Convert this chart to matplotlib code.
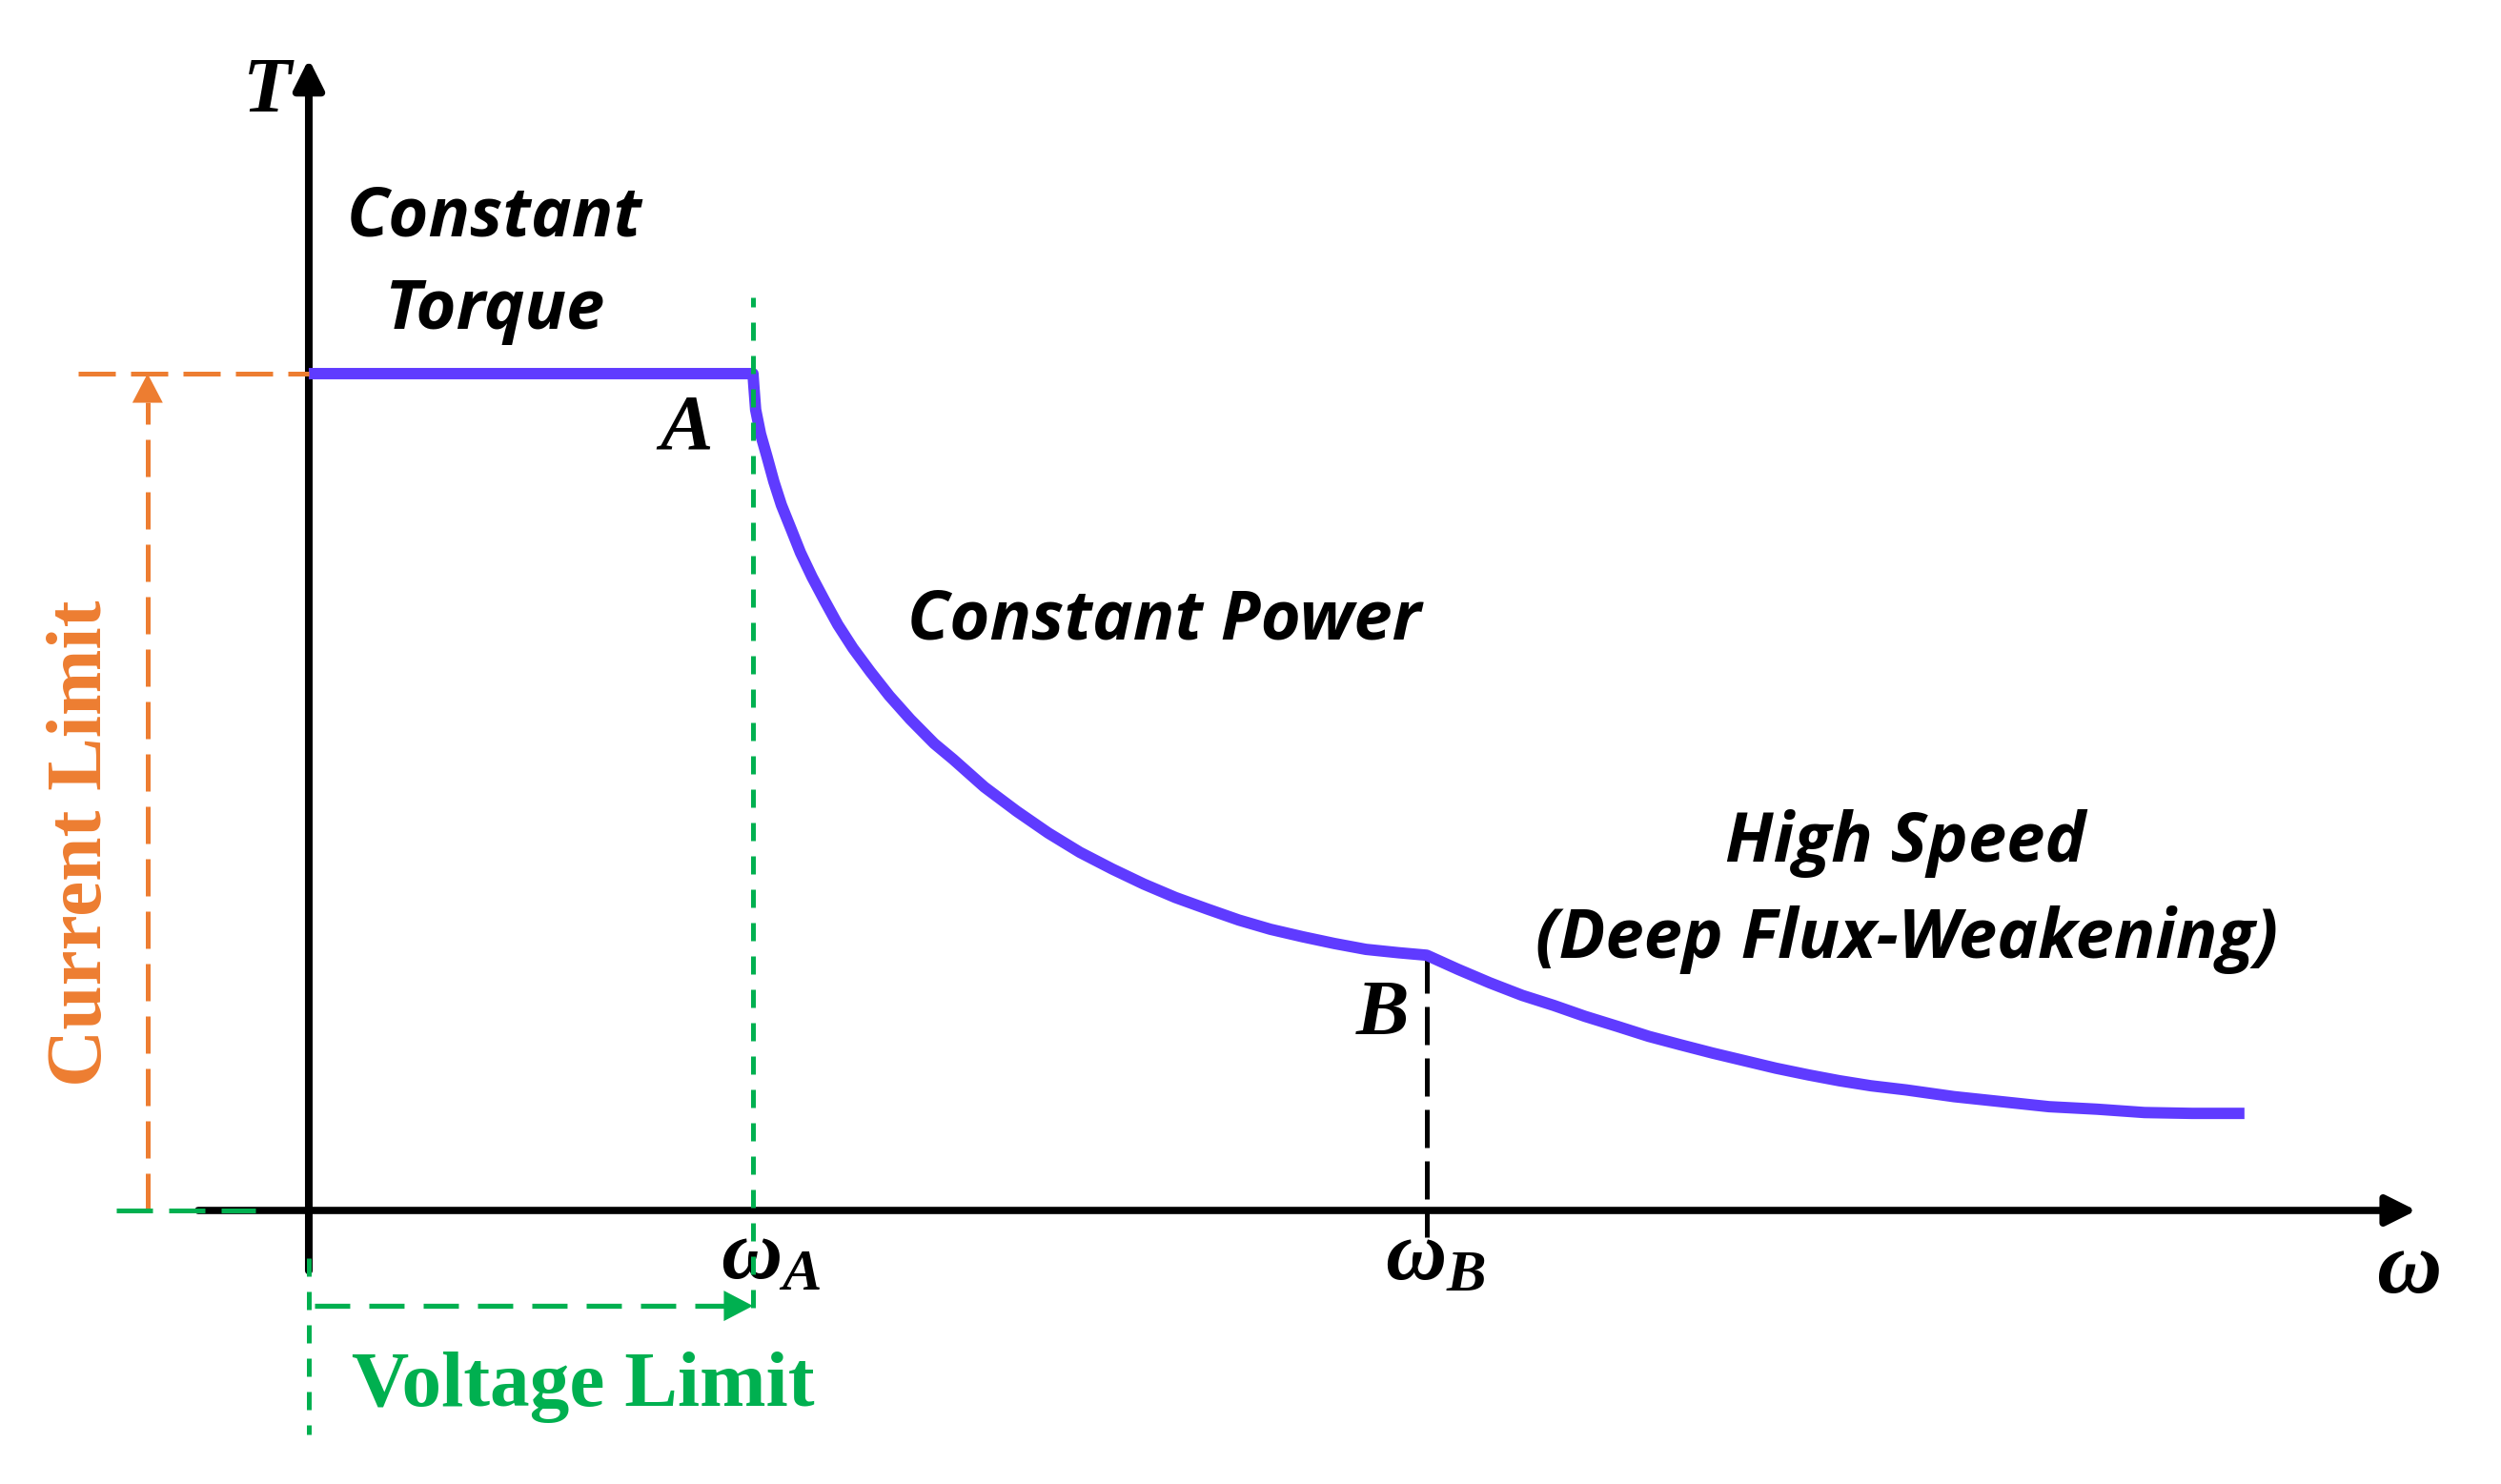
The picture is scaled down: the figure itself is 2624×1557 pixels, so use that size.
import matplotlib
matplotlib.use('Agg')
import matplotlib.pyplot as plt

plt.rcParams['mathtext.fontset'] = 'custom'
plt.rcParams['mathtext.it'] = 'Liberation Serif:italic:bold'
plt.rcParams['mathtext.rm'] = 'Liberation Serif:bold'
plt.rcParams['mathtext.bf'] = 'Liberation Serif:bold'

# torque-speed envelope, normalised: omega_A = 1, rated torque = 1
omega = [0.000,
         1.000, 1.002, 1.006, 1.017, 1.032, 1.047, 1.064, 1.086, 1.107, 1.133,
         1.161, 1.191, 1.225, 1.264, 1.307, 1.354, 1.408,
         1.451, 1.521, 1.594, 1.665, 1.736, 1.809, 1.880, 1.951, 2.024, 2.094,
         2.165, 2.238, 2.309, 2.380, 2.453, 2.517,
         2.588, 2.659, 2.732, 2.803, 2.873, 2.946, 3.017, 3.088, 3.161, 3.232,
         3.303, 3.376, 3.446, 3.517, 3.597, 3.704, 3.811, 3.918, 4.026, 4.133,
         4.240, 4.358]
torque = [1.000,
          1.000, 0.985, 0.957, 0.928, 0.900, 0.871, 0.843, 0.814, 0.786, 0.757,
          0.729, 0.700, 0.672, 0.644, 0.615, 0.587, 0.558,
          0.539, 0.506, 0.477, 0.451, 0.428, 0.408, 0.390, 0.374, 0.360, 0.347,
          0.336, 0.327, 0.319, 0.312, 0.308, 0.305,
          0.288, 0.272, 0.257, 0.245, 0.232, 0.220, 0.208, 0.198, 0.188, 0.179,
          0.170, 0.162, 0.155, 0.149, 0.144, 0.136, 0.130, 0.124, 0.121, 0.117,
          0.116, 0.116]
idx_A, idx_B = 1, 33

omega_A, omega_B = omega[idx_A], omega[idx_B]
T_rated, T_B = torque[idx_A], torque[idx_B]

PURPLE = '#5F3BFF'
ORANGE = '#ED7D31'
GREEN = '#00B050'
SERIF = 'Liberation Serif'
SANS = 'Open Sans'

fig = plt.figure(figsize=(26.24, 15.57), dpi=100)
ax = fig.add_axes([0, 0, 1, 1])
ax.axis('off')
ax.set_xlim(-324 / 466, (2624 - 324) / 466)
ax.set_ylim((1270 - 1557) / 878, 1270 / 878)


def head(tip, back, color, hl=22.0, hw=11.5):
    ax.annotate('', xy=tip, xytext=back,
                arrowprops=dict(arrowstyle=f'-|>,head_length={hl},head_width={hw}',
                                lw=0, color=color, shrinkA=0, shrinkB=0,
                                mutation_scale=1), zorder=6)


# axes
ax.annotate('', xy=(4.745, 0), xytext=(-0.249, 0),
            arrowprops=dict(arrowstyle='-|>,head_length=19,head_width=9.5', lw=5.5,
                            color='black', shrinkA=0, shrinkB=0, mutation_scale=1),
            zorder=3)
ax.annotate('', xy=(0, 1.376), xytext=(0, -0.072),
            arrowprops=dict(arrowstyle='-|>,head_length=19,head_width=9.5', lw=5.8,
                            color='black', shrinkA=0, shrinkB=0, mutation_scale=1),
            zorder=3)

# torque envelope
ax.plot(omega, torque, color=PURPLE, lw=8.6, solid_capstyle='butt',
        solid_joinstyle='round', zorder=4)

# current limit (orange)
ax.plot([-0.519, 0], [T_rated, T_rated], color=ORANGE, lw=3.6,
        ls=(0, (7.8, 3.2)), zorder=5)
ax.plot([-0.363, -0.363], [0, T_rated - 0.034], color=ORANGE, lw=3.6,
        ls=(0, (7.8, 3.2)), zorder=5)
head((-0.363, T_rated), (-0.363, T_rated - 0.01), ORANGE)

# voltage limit (green)
ax.plot([omega_A, omega_A], [-0.116, 1.091], color=GREEN, lw=3.6,
        ls=(0, (3.8, 3.2)), zorder=5)
ax.plot([0, 0], [-0.057, -0.268], color=GREEN, lw=3.6,
        ls=(0, (3.8, 3.2)), zorder=5)
ax.plot([-0.433, -0.120], [0, 0], color=GREEN, lw=3.6,
        ls=(0, (7.6, 3.4)), zorder=5)
ax.plot([0.013, omega_A - 0.064], [-0.114, -0.114], color=GREEN, lw=3.8,
        ls=(0, (7.0, 3.8)), zorder=5)
head((omega_A, -0.114), (omega_A - 0.01, -0.114), GREEN)

# omega_B marker
ax.plot([omega_B, omega_B], [T_B, -0.032], color='black', lw=3.6,
        ls=(0, (8.0, 2.8)), zorder=3)

# labels
ax.text(-0.094, 1.313, 'T', family=SERIF, style='italic', weight='bold',
        fontsize=60, ha='center', va='baseline')
ax.text(4.727, -0.098, 'ω', family=SERIF, style='italic', weight='bold',
        fontsize=68, ha='center', va='baseline')
ax.text(0.850, 0.911, 'A', family=SERIF, style='italic', weight='bold',
        fontsize=60, ha='center', va='baseline')
ax.text(2.418, 0.211, 'B', family=SERIF, style='italic', weight='bold',
        fontsize=60, ha='center', va='baseline')
ax.text(0.927, -0.080, r'$\omega_{A}$', fontsize=64, ha='left', va='baseline')
ax.text(2.423, -0.083, r'$\omega_{B}$', fontsize=64, ha='left', va='baseline')

ax.text(0.418, 1.165, 'Constant', family=SANS, style='italic', weight='bold',
        fontsize=52, ha='center', va='baseline')
ax.text(0.418, 1.054, 'Torque', family=SANS, style='italic', weight='bold',
        fontsize=52, ha='center', va='baseline')
ax.text(1.925, 0.683, 'Constant Power', family=SANS, style='italic', weight='bold',
        fontsize=52, ha='center', va='baseline')
ax.text(3.594, 0.417, 'High Speed', family=SANS, style='italic', weight='bold',
        fontsize=52, ha='center', va='baseline')
ax.text(3.597, 0.302, '(Deep Flux-Weakening)', family=SANS, style='italic',
        weight='bold', fontsize=52, ha='center', va='baseline')

ax.text(0.618, -0.233, 'Voltage Limit', family=SERIF, weight='bold',
        fontsize=60, color=GREEN, ha='center', va='baseline')
ax.text(-0.468, 0.4385, 'Current Limit', family=SERIF, weight='bold',
        fontsize=60, color=ORANGE, ha='center', va='baseline',
        rotation=90, rotation_mode='anchor')

fig.savefig('out.png', dpi=100)
